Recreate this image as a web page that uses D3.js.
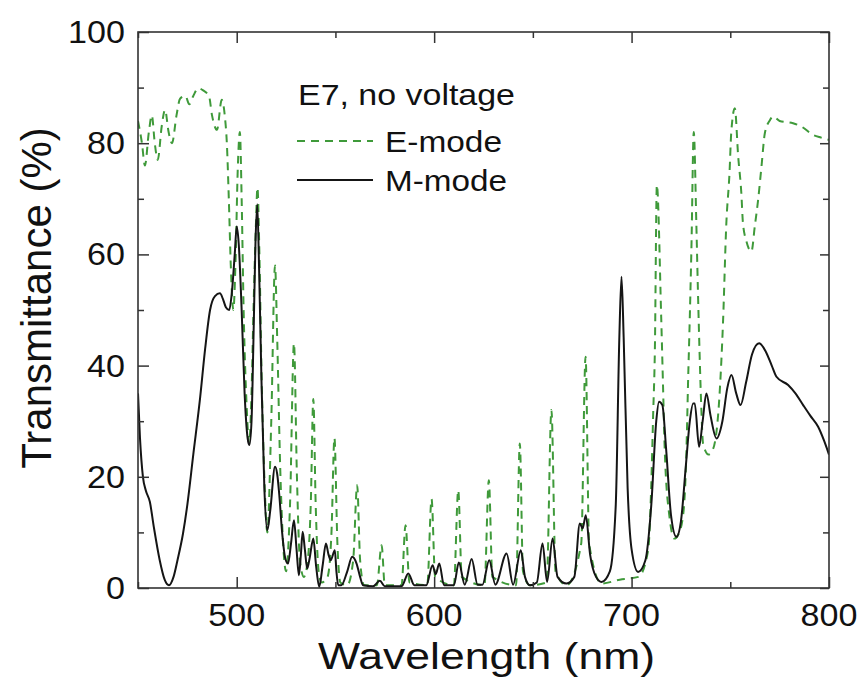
<!DOCTYPE html>
<html><head><meta charset="utf-8">
<script src="https://cdn.jsdelivr.net/npm/d3@7"></script>
<style>body{margin:0;background:#fff}text{font-family:"Liberation Sans",Arial,sans-serif;fill:#111}</style>
</head><body>
<svg id="chart" width="860" height="692"></svg>
<script>
// ---- data ----
const eModeWavelength = [450,452,453.5,455.5,457,458.5,460,462,463.7,465.5,467.2,469.5,471.3,474,476,478,480.5,483,486,487.5,490,492.4,494,495,496,497,498.3,499.5,500.5,501.6,502.5,503.5,505,506.3,507.5,508.5,509.7,510.5,511.5,512.5,514,515.5,517.5,519.4,520.5,522,523.5,525,527,529,530.5,532,534,536,537.5,538.8,540,541.5,543,546,548,549.5,551,552.5,556,559,561,562.5,564.5,571,573.4,575,583.5,585.5,587.5,596.5,598.7,600.5,610,612.2,614,625.5,627.7,629.5,641.5,643.4,645,648.5,657,659.4,661.5,667,674.5,676.7,678.5,684.8,694,703.5,708.4,710,710.9,711.8,712.8,715,715.9,716.8,719.2,721.7,723.5,726,727.8,728.6,729.5,730.3,731.5,732.8,733.6,734.5,735.3,736.2,739,741.3,744.7,746.3,748,749.6,750.5,752.3,754,755.6,756.4,758.2,760.7,762.4,764.1,765.8,767.5,770,771.7,775,781.8,786,791.9,796,800];
const eModeT = [84,80,76,82,85,80,77,83,86,82,80,85,88,88.5,87,88.5,89.9,89.5,88.4,85,82.4,87.8,84.8,80,70,58,50,60,75,82,70,50,33,26,35,50,65,72,60,40,20,10,30,58,45,22,8,3,15,44,20,5,2,5,15,34,15,3,1,2,10,27,8,1,0.5,5,18.5,5,0.5,0.5,7.7,0.5,0.5,11.3,1,0.5,16,2,0.5,17.6,2,0.5,19.4,2,0.5,26,3,0.5,1,32,3,0.5,8,41.6,8,0.8,1.5,2,6.8,18.8,30.8,42.8,72.5,48.8,36.8,24.8,12.8,8.9,9.5,12.8,24.8,36.8,48.8,60.8,82,65.6,53.6,41.6,32.6,26,24,25,35.6,47.6,65.6,74.6,82,86.3,77.6,71,65.7,62.3,60.5,65,69.8,75.8,81.8,84.1,84.8,84,83.6,83,81.5,81,80.6];

const mModeWavelength = [450,451,452.5,454,456,458,461,463.5,465.7,468,470,472.8,475,478,481.4,484,486.5,489,491.5,493,494.5,496.2,497.5,499,500,501,502.5,504,505.5,506.4,507.5,508.5,509.5,510.4,511.3,512.5,514,515.5,517,519.4,520.5,521.5,523,524.5,526,527.5,529,530.3,531.5,532.5,533.4,534.5,535.7,537,538.8,540.2,541.8,543.5,545.2,546.5,547.6,549.7,550.5,551.4,553,556,558.5,560.7,562.5,564,569,572.5,575,583.5,586.9,590,596,599.2,600.8,602.6,605,610,612.5,615.5,619,622,624.5,627.9,631,636.7,640,643.9,646,648.5,652,654.9,657.2,660,662.5,667,671,673.8,675.2,676.8,679,682,684.8,689,692,693.8,694.9,696,698,700,703.3,707,710,712.5,713.9,715.6,717.5,720,722.7,725,727.5,729.5,731.2,732,734.2,736,737.9,740,743,746,748.5,750.6,753,755.2,758,761,764.6,768,771,773.4,779.3,783,786.9,790.5,794.5,797.5,800];
const mModeT = [35,27,20,17.5,15.5,11,5,1.5,0.5,2,5,9.8,15,24,34,43,50,52.5,53,52,50.5,50,53,60,65,62,50,35,27,25.7,30,45,62,69,58,38,18,10.4,14,21.8,20.5,17,10,5.5,4.4,8,12.2,7,2.3,6,10.1,7,3.5,5.5,8.9,4,0.2,4,8,6,5,6.8,3,0.5,0.5,3,5.6,4.4,2,0.5,0.3,1.3,0.3,0.3,2.6,0.5,0.5,4.1,2.5,4.4,0.5,0.5,4.6,0.6,5.2,0.6,0.6,5,0.6,6.2,0.6,6.8,2,0.5,1,8,1.1,8.9,2,0.8,2,11.6,10.7,13.1,6,2,1.1,3,15,45,56,45,18,7,2.9,5,15,30,33.5,32.9,25,13,9.2,12,22,30,33.2,33.2,25.4,30,35,31,26.9,30,36,38.3,35,32.9,37,42,44,42.5,40,38,36.5,35,32.9,31,29,26.5,24];

const xTickLabels = [500,600,700,800];
const yTickLabels = [0,20,40,60,80,100];
const legendTitle = "E7, no voltage";
const seriesNames = ["E-mode","M-mode"];
const xTitle = "Wavelength (nm)";
const yTitle = "Transmittance (%)";

// ---- layout ----
const L = 138, R = 829, T = 32, B = 588;
const svg = d3.select("#chart");
const x = d3.scaleLinear().domain([450,800]).range([L,R]);
const y = d3.scaleLinear().domain([0,100]).range([B,T]);

svg.append("defs").append("clipPath").attr("id","clip")
  .append("rect").attr("x",L).attr("y",T).attr("width",R-L).attr("height",B-T);

const line = d3.line().x(d=>x(d[0])).y(d=>y(d[1])).curve(d3.curveMonotoneX);
const eData = eModeWavelength.map((w,i)=>[w,eModeT[i]]);
const mData = mModeWavelength.map((w,i)=>[w,mModeT[i]]);

const g = svg.append("g").attr("clip-path","url(#clip)");
g.append("path").datum(eData).attr("d",line).attr("fill","none")
  .attr("stroke","#3f9a3a").attr("stroke-width",2).attr("stroke-dasharray","8,6");
g.append("path").datum(mData).attr("d",line).attr("fill","none")
  .attr("stroke","#151515").attr("stroke-width",2);

// ---- axes ----
const frameColor = "#333";
function styleAxis(sel){
  sel.select(".domain").remove();
  sel.selectAll("line").attr("stroke",frameColor).attr("stroke-width",1.5);
}
const xMajor = d3.range(500,801,100), xMinor = d3.range(450,801,50).filter(v=>v%100!==0);
const yMajor = d3.range(0,101,20), yMinor = d3.range(10,100,20);
const tickFont = 31, digitW = 0.556*tickFont*1.1;

// bottom
const gb = svg.append("g").attr("transform",`translate(0,${B})`);
gb.call(d3.axisBottom(x).tickValues(xMajor).tickSize(-11).tickFormat(""));
styleAxis(gb);
const gb2 = svg.append("g").attr("transform",`translate(0,${B})`);
gb2.call(d3.axisBottom(x).tickValues(xMinor).tickSize(-6).tickFormat(""));
styleAxis(gb2);
svg.append("g").selectAll("text").data(xTickLabels).join("text")
  .attr("x",d=>x(d)).attr("y",626).attr("text-anchor","middle")
  .attr("font-size",tickFont).attr("textLength",d=>String(d).length*digitW)
  .attr("lengthAdjust","spacingAndGlyphs").text(d=>d);
// top
const gt = svg.append("g").attr("transform",`translate(0,${T})`);
gt.call(d3.axisTop(x).tickValues(xMajor).tickSize(-11).tickFormat(""));
styleAxis(gt);
const gt2 = svg.append("g").attr("transform",`translate(0,${T})`);
gt2.call(d3.axisTop(x).tickValues(xMinor).tickSize(-6).tickFormat(""));
styleAxis(gt2);
// left
const gl = svg.append("g").attr("transform",`translate(${L},0)`);
gl.call(d3.axisLeft(y).tickValues(yMajor).tickSize(-11).tickFormat(""));
styleAxis(gl);
const gl2 = svg.append("g").attr("transform",`translate(${L},0)`);
gl2.call(d3.axisLeft(y).tickValues(yMinor).tickSize(-6).tickFormat(""));
styleAxis(gl2);
svg.append("g").selectAll("text").data(yTickLabels).join("text")
  .attr("x",125).attr("y",d=>y(d)+11).attr("text-anchor","end")
  .attr("font-size",tickFont).attr("textLength",d=>String(d).length*digitW)
  .attr("lengthAdjust","spacingAndGlyphs").text(d=>d);
// right
const gr = svg.append("g").attr("transform",`translate(${R},0)`);
gr.call(d3.axisRight(y).tickValues(yMajor).tickSize(-9).tickFormat(""));
styleAxis(gr);
const gr2 = svg.append("g").attr("transform",`translate(${R},0)`);
gr2.call(d3.axisRight(y).tickValues(yMinor).tickSize(-6).tickFormat(""));
styleAxis(gr2);
// frame
svg.append("rect").attr("x",L).attr("y",T).attr("width",R-L).attr("height",B-T)
  .attr("fill","none").attr("stroke",frameColor).attr("stroke-width",1.6);

// titles
svg.append("text").attr("x",318).attr("y",669).attr("font-size",36)
  .attr("textLength",337).attr("lengthAdjust","spacingAndGlyphs").text(xTitle);
svg.append("text").attr("transform","translate(51,298) rotate(-90)")
  .attr("text-anchor","middle").attr("font-size",42).text(yTitle);

// legend
svg.append("text").attr("x",298).attr("y",105).attr("font-size",30)
  .attr("textLength",217).attr("lengthAdjust","spacingAndGlyphs").text(legendTitle);
const legRows = [
  {name:seriesNames[0], ly:141, ty:152, w:117, color:"#3f9a3a", dash:"8,6"},
  {name:seriesNames[1], ly:180, ty:191, w:122, color:"#151515", dash:null}
];
legRows.forEach(r=>{
  svg.append("line").attr("x1",297).attr("x2",373).attr("y1",r.ly).attr("y2",r.ly)
    .attr("stroke",r.color).attr("stroke-width",2).attr("stroke-dasharray",r.dash);
  svg.append("text").attr("x",385).attr("y",r.ty).attr("font-size",30)
    .attr("textLength",r.w).attr("lengthAdjust","spacingAndGlyphs").text(r.name);
});
</script>
</body></html>
